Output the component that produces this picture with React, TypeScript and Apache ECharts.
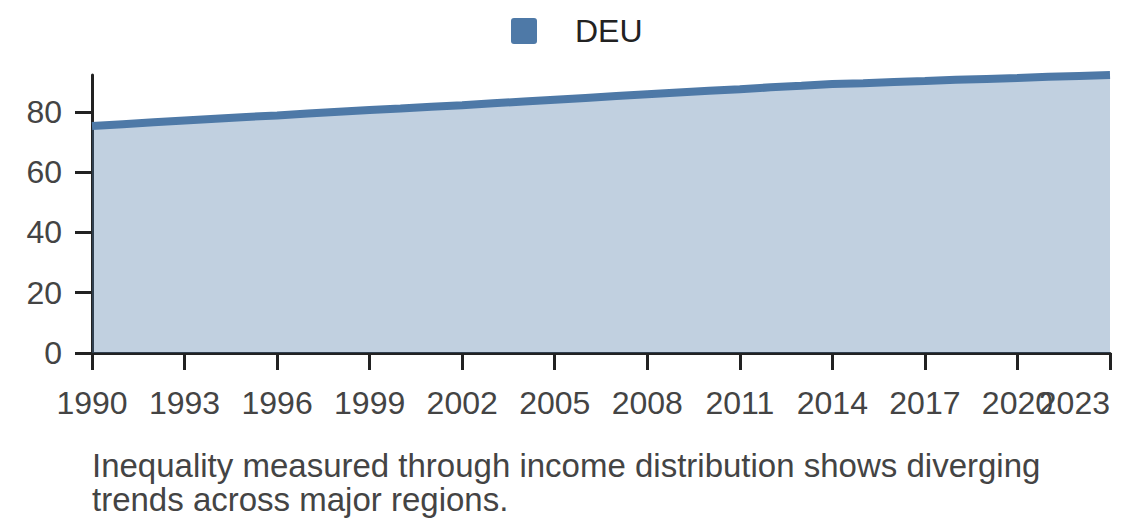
import React, { useEffect, useRef } from "react";
import * as echarts from "echarts";

const seriesName = "DEU";
const years = [
  1990, 1991, 1992, 1993, 1994, 1995, 1996, 1997, 1998, 1999, 2000, 2001,
  2002, 2003, 2004, 2005, 2006, 2007, 2008, 2009, 2010, 2011, 2012, 2013,
  2014, 2015, 2016, 2017, 2018, 2019, 2020, 2021, 2022, 2023,
];
const deuValues = [
  75.3, 75.9, 76.5, 77.1, 77.7, 78.3, 78.8, 79.4, 80.0, 80.6, 81.1, 81.7,
  82.2, 82.8, 83.4, 84.0, 84.6, 85.2, 85.8, 86.4, 87.0, 87.5, 88.1, 88.6,
  89.2, 89.5, 89.9, 90.2, 90.6, 90.9, 91.2, 91.6, 91.9, 92.2,
];
const xTickYears = [1990, 1993, 1996, 1999, 2002, 2005, 2008, 2011, 2014, 2017, 2020, 2023];
const xLabelYearsMain = [1990, 1993, 1996, 1999, 2002, 2005, 2008, 2011, 2014, 2017, 2023];
const xLabelYearsExtra = [2020];
const yTicks = [0, 20, 40, 60, 80];
const caption =
  "Inequality measured through income distribution shows diverging\ntrends across major regions.";

const FONT = "'Liberation Sans', Arial, Helvetica, sans-serif";
const BLUE = "#4e79a7";
const ICON =
  "path://M3,0H23A3,3,0,0,1,26,3V23A3,3,0,0,1,23,26H3A3,3,0,0,1,0,23V3A3,3,0,0,1,3,0Z";

const labelStyle = {
  formatter: (v: number) => String(Math.round(v)),
  fontFamily: FONT,
  fontSize: 32,
  color: "#444444",
  margin: 34,
  hideOverlap: false,
};

export default function App() {
  const ref = useRef<HTMLDivElement>(null);

  useEffect(() => {
    if (!ref.current) return;
    const chart = echarts.init(ref.current, undefined, { renderer: "svg" });
    const data = years.map((y, i) => [y, deuValues[i]]);
    chart.setOption({
      animation: false,
      backgroundColor: "#ffffff",
      textStyle: { fontFamily: FONT },
      legend: {
        left: 511,
        top: 15,
        padding: 0,
        icon: ICON,
        itemWidth: 26,
        itemHeight: 26,
        data: [seriesName],
        textStyle: {
          fontFamily: FONT,
          fontSize: 32,
          color: "#222222",
          padding: [0, 0, 0, 33],
        },
      },
      grid: { left: 92, right: 30, top: 75, bottom: 175, containLabel: false },
      xAxis: [
        {
          type: "value",
          position: "bottom",
          min: 1990,
          max: 2023,
          splitLine: { show: false },
          axisLine: { show: true, onZero: false, lineStyle: { color: "#222222", width: 3 } },
          axisTick: {
            show: true,
            length: 17,
            customValues: xTickYears,
            lineStyle: { color: "#222222", width: 3 },
          },
          axisLabel: {
            ...labelStyle,
            customValues: xLabelYearsMain,
            showMaxLabel: true,
            alignMaxLabel: "right",
          },
        },
        {
          type: "value",
          position: "bottom",
          min: 1990,
          max: 2023,
          splitLine: { show: false },
          axisLine: { show: false, onZero: false },
          axisTick: { show: false },
          axisLabel: {
            ...labelStyle,
            customValues: xLabelYearsExtra,
          },
        },
      ],
      yAxis: {
        type: "value",
        min: 0,
        max: "dataMax",
        splitLine: { show: false },
        axisLine: { show: true, lineStyle: { color: "#222222", width: 3 } },
        axisTick: {
          show: true,
          length: 17,
          customValues: yTicks,
          lineStyle: { color: "#222222", width: 3 },
        },
        axisLabel: {
          customValues: yTicks,
          fontFamily: FONT,
          fontSize: 32,
          color: "#444444",
          margin: 30,
        },
      },
      graphic: [
        {
          type: "text",
          left: 92,
          top: 448,
          style: {
            text: caption,
            font: `33px ${FONT}`,
            fill: "#444444",
            lineHeight: 34,
          },
        },
      ],
      series: [
        {
          name: seriesName,
          type: "line",
          xAxisIndex: 0,
          data,
          symbol: "none",
          showSymbol: false,
          itemStyle: { color: BLUE },
          lineStyle: { color: BLUE, width: 8, cap: "butt" },
          areaStyle: { color: BLUE, opacity: 0.35 },
        },
      ],
    });
    return () => chart.dispose();
  }, []);

  return (
    <div
      ref={ref}
      style={{ position: "fixed", left: 0, top: 0, width: 1140, height: 528 }}
    />
  );
}
